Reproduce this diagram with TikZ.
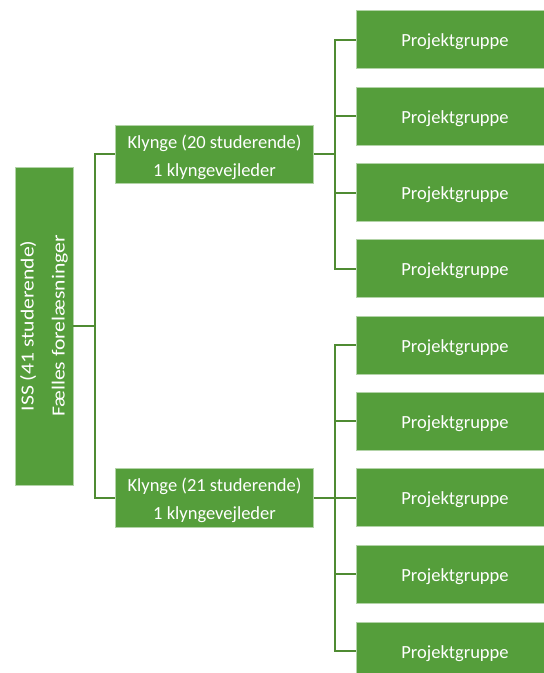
\documentclass[tikz,border=0pt]{standalone}
\usepackage{fontspec}
\setmainfont{Carlito}
\usepackage{graphicx}
\definecolor{boxgreen}{HTML}{559E3B}
\definecolor{linegreen}{HTML}{4F8B32}
\newcommand{\dn}[1]{\raisebox{-2.5pt}[\height][\depth]{#1}}
\tikzset{
  gbox/.style={rectangle, fill=boxgreen, draw=white!55!boxgreen, line width=0.6pt,
    text=white, align=center, inner sep=0pt, font=\fontsize{18.5}{28}\selectfont},
  pbox/.style={gbox, minimum width=198pt, minimum height=58pt},
  kbox/.style={gbox, minimum width=198pt, minimum height=58pt},
  conn/.style={draw=linegreen, line width=2pt}
}
\begin{document}
\begin{tikzpicture}[x=1pt,y=-1pt]
\useasboundingbox (0,0) rectangle (544,673);
\clip (0,0) rectangle (544,673);
% root
\node[gbox, rotate=90, minimum width=318pt, minimum height=58pt,
      font=\fontsize{18.5}{31}\selectfont] (iss) at (44,326)
  {\scalebox{1.17}[1]{ISS (41 studerende)}\\\scalebox{1.17}[1]{Fælles forelæsninger}};
% clusters
\node[kbox] (k1) at (214.5,154)
  {\dn{\begin{tabular}{@{}c@{}}Klynge (20 studerende)\\1 klyngevejleder\end{tabular}}};
\node[kbox, minimum height=59pt] (k2) at (214.5,497.5)
  {\dn{\begin{tabular}{@{}c@{}}Klynge (21 studerende)\\1 klyngevejleder\end{tabular}}};
% project groups
\node[pbox] (p1) at (455,39.5) {\dn{Projektgruppe}};
\node[pbox] (p2) at (455,116) {\dn{Projektgruppe}};
\node[pbox] (p3) at (455,192.5) {\dn{Projektgruppe}};
\node[pbox] (p4) at (455,268.5) {\dn{Projektgruppe}};
\node[pbox] (p5) at (455,345) {\dn{Projektgruppe}};
\node[pbox] (p6) at (455,421) {\dn{Projektgruppe}};
\node[pbox] (p7) at (455,497.5) {\dn{Projektgruppe}};
\node[pbox] (p8) at (455,574) {\dn{Projektgruppe}};
\node[pbox] (p9) at (455,651) {\dn{Projektgruppe}};
% junctions
\coordinate (j0) at (95,326);
\coordinate (j1) at (335,154);
\coordinate (j2) at (335,497.5);
% connectors
\draw[conn] (iss.south) -- (j0);
\draw[conn] (j0) |- (k1.west);
\draw[conn] (j0) |- (k2.west);
\draw[conn] (k1.east) -- (j1);
\draw[conn] (k2.east) -- (j2);
\foreach \p in {p1,p2,p3,p4}{\draw[conn] (j1) |- (\p.west);}
\foreach \p in {p5,p6,p7,p8,p9}{\draw[conn] (j2) |- (\p.west);}
\end{tikzpicture}
\end{document}
